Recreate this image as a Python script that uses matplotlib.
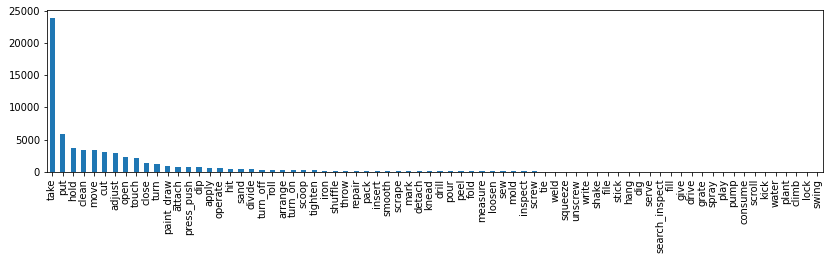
import matplotlib
matplotlib.use("Agg")
import matplotlib.pyplot as plt

verbs = ['take', 'put', 'hold', 'clean', 'move', 'cut', 'adjust', 'open', 'touch',
         'close', 'turn', 'paint_draw', 'attach', 'press_push', 'dip', 'apply',
         'operate', 'hit', 'sand', 'divide', 'turn_off', 'roll', 'arrange', 'turn_on',
         'scoop', 'tighten', 'iron', 'shuffle', 'throw', 'repair', 'pack', 'insert',
         'smooth', 'scrape', 'mark', 'detach', 'knead', 'drill', 'pour', 'peel', 'fold',
         'measure', 'loosen', 'sew', 'mold', 'inspect', 'screw', 'tie', 'weld',
         'squeeze', 'unscrew', 'write', 'shake', 'file', 'stick', 'hang', 'dig',
         'serve', 'search_inspect', 'fill', 'give', 'drive', 'grate', 'spray', 'play',
         'pump', 'consume', 'scroll', 'kick', 'water', 'plant', 'climb', 'lock', 'swing']

counts = [23900, 5840, 3730, 3460, 3420, 3100, 2950, 2330, 2170,
          1450, 1240, 980, 780, 760, 720, 670,
          620, 470, 410, 400, 360, 310, 290, 270,
          250, 235, 225, 212, 200, 190, 180, 170,
          165, 158, 150, 145, 138, 130, 125, 120, 115,
          108, 100, 95, 90, 85, 80, 75, 70,
          65, 60, 55, 50, 45, 41, 38, 35,
          32, 30, 28, 25, 22, 20, 18, 16,
          14, 12, 10, 9, 8, 6, 5, 4, 3]

fig = plt.figure(figsize=(831 / 72, 261 / 72), dpi=72)
ax = fig.add_axes([0.0566, 0.341, 0.9334, 0.621])

x = range(len(verbs))
ax.bar(x, counts, width=0.5, color='#1f77b4')
ax.set_xticks(list(x))
ax.set_xticklabels(verbs, rotation=90, fontsize=10)
ax.set_xlim(-0.5, len(verbs) - 0.5)
ax.set_yticks([0, 5000, 10000, 15000, 20000, 25000])
ax.tick_params(axis='y', labelsize=10)

fig.savefig('out.png', dpi=72)
